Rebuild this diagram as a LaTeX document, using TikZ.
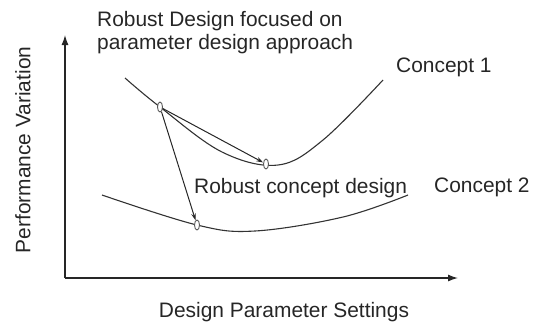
\documentclass[tikz,border=0pt]{standalone}
\usepackage{fontspec}
\setmainfont{Liberation Sans}
\usetikzlibrary{arrows.meta,shapes.geometric}

\begin{document}
\begin{tikzpicture}[x=1bp, y=-1bp,
  lbl/.style={font=\fontsize{21}{23}\selectfont, text=black!85, inner sep=0pt},
  pt/.style={ellipse, draw=black!65, fill=white, line width=0.9bp, minimum width=5bp, minimum height=10bp, inner sep=0pt},
  curve/.style={black!80, line width=1.1bp},
  move/.style={black!85, line width=1bp, -{Stealth[length=7bp, width=4.5bp]}}]
\useasboundingbox (0,0) rectangle (534,325);
% Draw the axes and label them
\coordinate (O) at (65,278);
\coordinate (xend) at (458,278);
\coordinate (yend) at (65,35);
\draw[black!85, line width=1.3bp, -{Latex[length=10bp, width=7bp]}] (O) -- (xend);
\draw[black!85, line width=1.3bp, -{Latex[length=10bp, width=7bp]}] (O) -- (yend);
\node[lbl] (xlabel) at (284,312) {Design Parameter Settings};
\node[lbl, rotate=90] (ylabel) at (23,150) {Performance Variation};
% Plot the two concept curves
\draw[curve] plot[smooth, tension=0.6] coordinates {(125,78) (160,107) (222,152) (278,165) (323,140) (383,80)};
\draw[curve] plot[smooth, tension=0.6] coordinates {(102,195) (197,225) (255,231) (343,217) (408,195)};
\node[lbl, anchor=west] (c1) at (396,67) {Concept 1};
\node[lbl, anchor=west] (c2) at (434,187) {Concept 2};
% Marked points and the moves between them
\node[pt] (start) at (160,107) {};
\node[pt] (param) at (266,164) {};
\node[pt] (robust) at (197,225) {};
\draw[move] (start) -- (param);
\draw[move] (start) -- (robust);
\node[lbl, anchor=west, align=left] (title) at (97,33) {Robust Design focused on\\parameter design approach};
\node[lbl, anchor=west] (rcd) at (194,188) {Robust concept design};
\end{tikzpicture}
\end{document}
